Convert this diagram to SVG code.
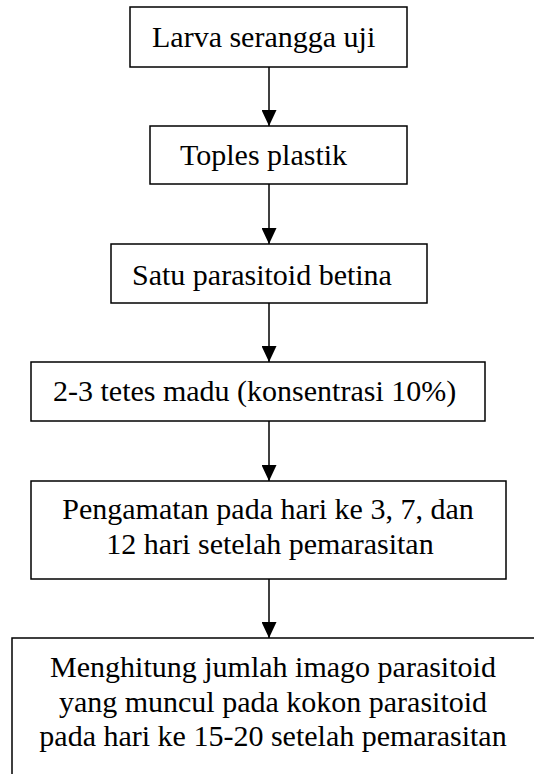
<svg xmlns="http://www.w3.org/2000/svg" width="534" height="774" viewBox="0 0 534 774">
<style>
.box{fill:#fff;stroke:#000;stroke-width:1.5}
text{font-family:'Liberation Serif','Times New Roman',Times,'DejaVu Serif',serif;font-size:30px;fill:#000}
.c{text-anchor:middle}
.conn{stroke:#000;stroke-width:1.5;fill:none}
</style>
<defs>
<marker id="arr" viewBox="0 0 16 15" markerWidth="16" markerHeight="15" refX="16" refY="7.5" orient="auto" markerUnits="userSpaceOnUse">
<polygon points="0,0 16,7.5 0,15" fill="#000"/>
</marker>
</defs>
<g id="connectors">
<line class="conn" x1="269" y1="67" x2="269" y2="126" marker-end="url(#arr)"/>
<line class="conn" x1="269" y1="184" x2="269" y2="244" marker-end="url(#arr)"/>
<line class="conn" x1="269" y1="303" x2="269" y2="362" marker-end="url(#arr)"/>
<line class="conn" x1="269" y1="421" x2="269" y2="481" marker-end="url(#arr)"/>
<line class="conn" x1="269" y1="579" x2="269" y2="638" marker-end="url(#arr)"/>
</g>
<g id="n1">
<rect class="box" x="130" y="7" width="277" height="60"/>
<text x="152" y="47">Larva serangga uji</text>
</g>
<g id="n2">
<rect class="box" x="150" y="126" width="257" height="58"/>
<text x="180" y="165">Toples plastik</text>
</g>
<g id="n3">
<rect class="box" x="111" y="244" width="316" height="59"/>
<text x="132" y="285">Satu parasitoid betina</text>
</g>
<g id="n4">
<rect class="box" x="31" y="362" width="454" height="59"/>
<text x="53" y="401">2-3 tetes madu (konsentrasi 10%)</text>
</g>
<g id="n5">
<rect class="box" x="31" y="481" width="475" height="98"/>
<text class="c" x="268" y="519">Pengamatan pada hari ke 3, 7, dan</text>
<text class="c" x="270" y="554">12 hari setelah pemarasitan</text>
</g>
<g id="n6">
<rect class="box" x="12" y="638" width="540" height="150"/>
<text class="c" x="273" y="677">Menghitung jumlah imago parasitoid</text>
<text class="c" x="273" y="712">yang muncul pada kokon parasitoid</text>
<text class="c" x="273" y="746">pada hari ke 15-20 setelah pemarasitan</text>
</g>
</svg>
